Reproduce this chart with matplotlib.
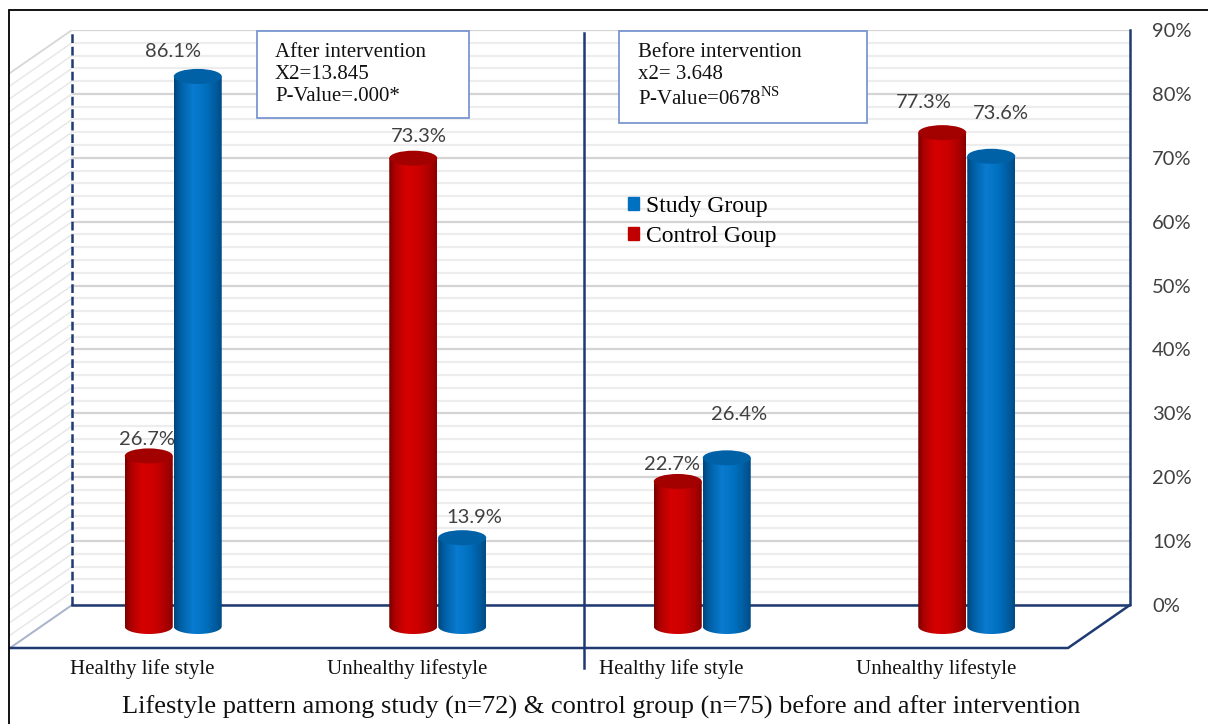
import numpy as np
import matplotlib
matplotlib.use('Agg')
import matplotlib.pyplot as plt
from matplotlib.colors import LinearSegmentedColormap
from matplotlib.patches import Polygon, Ellipse, Rectangle, Patch

plt.rcParams['mathtext.fontset'] = 'custom'
plt.rcParams['mathtext.rm'] = 'Liberation Serif'

# lifestyle pattern, % of each group (after intervention | before intervention)
categories = ['Healthy life style', 'Unhealthy lifestyle', 'Healthy life style', 'Unhealthy lifestyle']
study = [86.1, 13.9, 26.4, 73.6]
control = [26.7, 73.3, 22.7, 77.3]
y_ticks = [0, 10, 20, 30, 40, 50, 60, 70, 80, 90]

# value label offsets from the top of each cylinder, in pixels
study_off = [(-25, 25), (12, 20), (12, 43), (10, 43)]
control_off = [(-2, 16), (6, 22), (-6, 17), (-18, 30)]

serif = 'Liberation Serif'
navy = '#1f3a73'
grid_major = '#d4d4d4'
grid_minor = '#ededed'

fig = plt.figure(figsize=(12.08, 7.24), dpi=100)
W, H = 1208, 724
ax = fig.add_axes([10 / W, (H - 648) / H, 1120 / W, 618 / H])

# oblique depth of the 3d box (front plane relative to the back wall)
DX = -62 / 264.5
DY = -43 / 6.389
YMAX = 90

# back wall and side wall grid
for v in np.arange(0, YMAX + 1, 2):
    c = grid_major if v % 10 == 0 else grid_minor
    ax.plot([0, 4], [v, v], color=c, lw=1.6, zorder=1)
    ax.plot([0, DX], [v, v + DY], color='#e8e8e8', lw=1.1, zorder=1)
ax.plot([0, DX], [0, DY], color='#aab4cc', lw=1.4, zorder=1)
ax.plot([0, DX], [YMAX, YMAX + DY], color='#d8d8d8', lw=1.2, zorder=1)

# box edges
ax.plot([0, 0], [0, YMAX], color=navy, lw=1.8, ls=(0, (3.5, 1.5)), zorder=2, clip_on=False)
ax.plot([0, 4, 4], [0, 0, YMAX], color=navy, lw=1.8, zorder=2, clip_on=False)
ax.plot([4, 4 + DX, DX], [0, DY, DY], color=navy, lw=1.8, zorder=2, clip_on=False)

red_cmap = LinearSegmentedColormap.from_list('red_cyl', [
    (0, '#780000'), (0.12, '#ac0000'), (0.35, '#d60000'),
    (0.62, '#cc0000'), (0.88, '#a60000'), (1, '#880000')])
blue_cmap = LinearSegmentedColormap.from_list('blue_cyl', [
    (0, '#00457a'), (0.14, '#0060a6'), (0.4, '#0a7bd0'),
    (0.65, '#0070c0'), (0.88, '#005a9c'), (1, '#004b84')])


def cylinder(xc, base, value, w, h, cmap, top_color, z):
    top = base + value
    t = np.linspace(np.pi, 2 * np.pi, 60)
    arc = np.column_stack([xc + w / 2 * np.cos(t), base + h / 2 * np.sin(t)])
    pts = np.vstack([[xc - w / 2, top], arc, [xc + w / 2, top]])
    body = Polygon(pts, closed=True, facecolor='none', edgecolor='none')
    ax.add_patch(body)
    grad = np.linspace(0, 1, 256).reshape(1, -1)
    im = ax.imshow(grad, cmap=cmap, extent=[xc - w / 2, xc + w / 2, base - h / 2, top],
                   aspect='auto', interpolation='bilinear', zorder=z)
    im.set_clip_path(body)
    ax.add_patch(Ellipse((xc, top), w, h, facecolor=top_color, edgecolor='none', zorder=z + 0.1))
    return top


bar_w = 48 / 264.5
ell_h = 15 / 6.389
base = DY / 2
shift = 0.0926
label_kw = dict(textcoords='offset pixels', ha='center', va='center',
                fontsize=14.5, family='Lato', color='#404040', zorder=30)
for i in range(4):
    xc = i + 0.5 + DX / 2
    top = cylinder(xc - shift, base, control[i], bar_w, ell_h, red_cmap, '#a30000', 3 + 2 * i)
    ax.annotate(f'{control[i]}%', (xc - shift, top), xytext=control_off[i], **label_kw)
    top = cylinder(xc + shift, base, study[i], bar_w, ell_h, blue_cmap, '#0061a6', 4 + 2 * i)
    ax.annotate(f'{study[i]}%', (xc + shift, top), xytext=study_off[i], **label_kw)

ax.set_xlim(DX, 4)
ax.set_ylim(DY, YMAX)
for s in ax.spines.values():
    s.set_visible(False)
ax.set_facecolor('none')

ax.set_xticks(np.arange(4) + 0.5 + DX)
ax.set_xticklabels(categories, family=serif, fontsize=15, color='#111111')
ax.yaxis.tick_right()
ax.set_yticks(y_ticks)
ax.set_yticklabels([f'{v}%' for v in y_ticks], family='Lato', fontsize=14.5,
                   color='#404040', ha='left')
ax.tick_params(axis='x', length=0, pad=8)
ax.tick_params(axis='y', length=0, pad=16)

# divider between the two panels
fig.add_artist(plt.Line2D([584 / W, 584 / W], [1 - 33 / H, 1 - 668 / H],
                          color=navy, lw=1.8, zorder=20))

# statistics boxes
boxes = [
    (257, 31, 212, 87, 275, 'After intervention\nX2=13.845\nP-Value=.000*'),
    (619, 31, 248, 92, 638, 'Before intervention\nx2= 3.648\nP-Value=0678$^{\\mathrm{NS}}$'),
]
for bx, by, bw, bh, tx, txt in boxes:
    fig.add_artist(Rectangle((bx / W, 1 - (by + bh) / H), bw / W, bh / H,
                             facecolor='white', edgecolor='#6f8fd0', lw=1.2, zorder=25))
    fig.text(tx / W, 1 - 43 / H, txt, family=serif, fontsize=15, va='top', ha='left',
             linespacing=1.2, color='#111111', zorder=26)

fig.legend(handles=[Patch(color='#0070c0', label='Study Group'),
                    Patch(color='#c00000', label='Control Goup')],
           loc='upper left', bbox_to_anchor=(628 / W, 1 - 196 / H), frameon=False,
           prop={'family': serif, 'size': 17}, handlelength=0.45, handleheight=0.45,
           handletextpad=0.3, labelspacing=0.38, borderpad=0, borderaxespad=0)

fig.text(601 / W, 1 - 707 / H,
         'Lifestyle pattern among study (n=72) & control group (n=75) before and after intervention',
         family=serif, fontsize=19, ha='center', va='center', color='#111111')

# outer frame
fig.add_artist(Rectangle((9 / W, -0.1), 1.2, 1.1 - 10 / H, fill=False,
                         edgecolor='black', lw=1.3))

fig.savefig('out.png', dpi=100, facecolor='white')
